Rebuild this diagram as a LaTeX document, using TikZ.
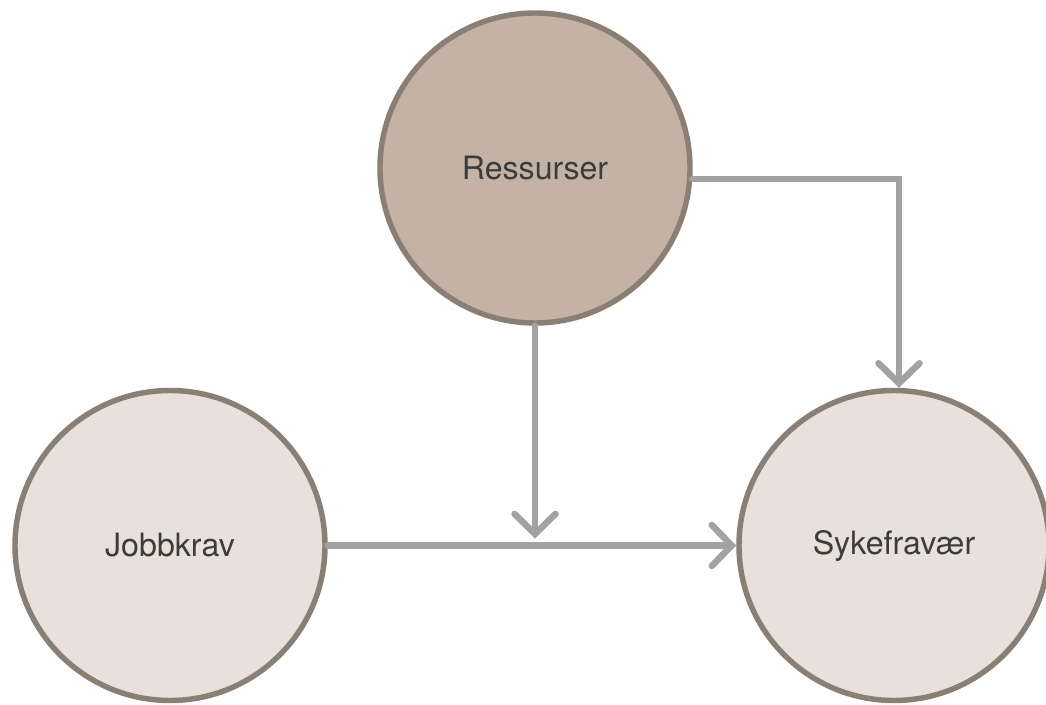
\documentclass[tikz,border=0pt]{standalone}
\usepackage{fontspec}
\setmainfont{TeX Gyre Heros}
\usetikzlibrary{arrows.meta,calc}
\definecolor{ringfarge}{HTML}{8A7F74}
\definecolor{mork}{HTML}{C4B3A4}
\definecolor{lys}{HTML}{E7E0DB}
\definecolor{pilfarge}{HTML}{A2A2A2}
\definecolor{tekst}{HTML}{3C3C3C}

\begin{document}
\begin{tikzpicture}[
		sirkel/.style={circle, draw=ringfarge, line width=3.1pt, minimum size=6.2cm,
			inner sep=0pt, text=tekst, font=\fontsize{18.3}{21}\selectfont},
		pil/.style={draw=pilfarge, line width=3.7pt, line cap=round,
			-{Straight Barb[length=0.4cm, width=0.82cm, line cap=round]}}
	]
			%%%%% START %%%%%
			
			\useasboundingbox[fill=white] (0, 0) rectangle (20.92, 14.08);
			
			\node[sirkel, fill=mork] (res) at (10.7, 10.72) {Ressurser};
			\node[sirkel, fill=lys] (jobb) at (3.4, 3.17) {Jobbkrav};
			\node[sirkel, fill=lys] (syk) at (17.88, 3.17) {Sykefravær};
			
			\coordinate (treff) at ($(res.south |- jobb.east)+(0, 0.14)$);
			
			\draw[pil] (jobb.east) -- (syk.west);
			\draw[pil] (res.south) -- (treff);
			\draw[pil] (res.-4.4) -| ([xshift=0.1cm]syk.north);
			
			%%%%% END %%%%%
		\end{tikzpicture}
\end{document}
